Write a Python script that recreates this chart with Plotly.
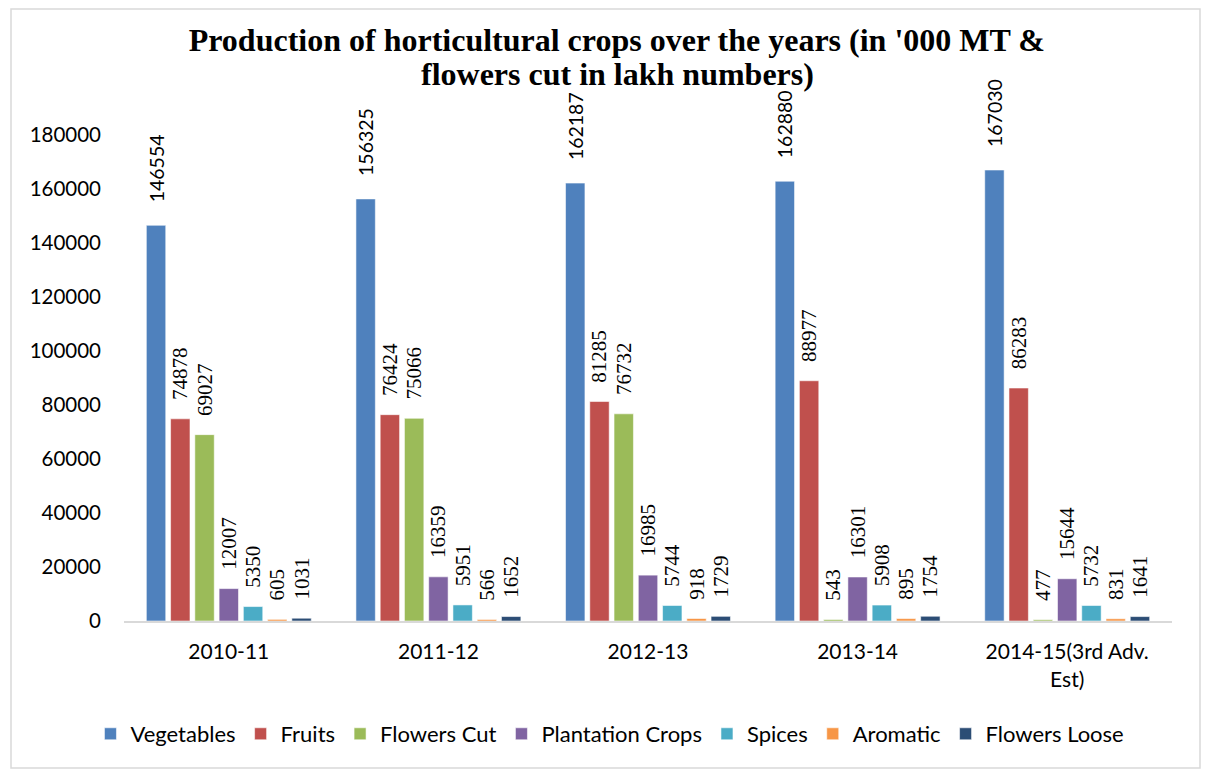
import plotly.graph_objects as go

# Years (last one is an estimate, wrapped onto two lines)
years = ["2010-11", "2011-12", "2012-13", "2013-14", "2014-15(3rd Adv.<br>Est)"]

# Production per crop group
vegetables = [146554, 156325, 162187, 162880, 167030]
fruits = [74878, 76424, 81285, 88977, 86283]
flowers_cut = [69027, 75066, 76732, 543, 477]
plantation_crops = [12007, 16359, 16985, 16301, 15644]
spices = [5350, 5951, 5744, 5908, 5732]
aromatic = [605, 566, 918, 895, 831]
flowers_loose = [1031, 1652, 1729, 1754, 1641]

series = [
    ("Vegetables", vegetables, "#4F81BD"),
    ("Fruits", fruits, "#C0504D"),
    ("Flowers Cut", flowers_cut, "#9BBB59"),
    ("Plantation Crops", plantation_crops, "#8064A2"),
    ("Spices", spices, "#4BACC6"),
    ("Aromatic", aromatic, "#F79646"),
    ("Flowers Loose", flowers_loose, "#2C4D75"),
]

title_lines = ["Production of horticultural crops over the years (in '000 MT &",
               "flowers cut in lakh numbers)"]

SANS = "Lato, Calibri, Carlito, sans-serif"
SERIF = "Liberation Serif, Times New Roman, serif"
NBSP = "\u00a0"

fig = go.Figure()
for name, vals, color in series:
    if name == "Vegetables":
        label_font = dict(family=SANS, size=19.5, color="#000000")
        pad = NBSP * 4
    else:
        label_font = dict(family=SERIF, size=21, color="#000000")
        pad = NBSP * 3
    fig.add_trace(go.Bar(
        name=name,
        x=years,
        y=vals,
        marker=dict(color=color, line=dict(color="rgba(255,255,255,0.55)", width=1)),
        # leading spaces lift the rotated label off the bar top
        text=[pad + str(v) for v in vals],
        textposition="outside",
        textangle=-90,
        textfont=label_font,
        constraintext="none",
        cliponaxis=False,
    ))

title_font = dict(family=SERIF, size=32, color="#000000", weight="bold")

fig.update_layout(
    width=1207,
    height=769,
    margin=dict(l=124, r=35, t=135, b=148),
    paper_bgcolor="white",
    plot_bgcolor="white",
    barmode="group",
    bargap=0.19,
    bargroupgap=0.2,
    title=dict(
        text=title_lines[0],
        x=0.511,
        xanchor="center",
        y=1 - 40 / 769,
        yanchor="middle",
        font=title_font,
    ),
    legend=dict(
        orientation="h",
        x=0.4637,
        xanchor="center",
        y=-0.2325,
        yanchor="middle",
        font=dict(family=SANS, size=22, color="#000000"),
        itemwidth=30,
        traceorder="normal",
    ),
    showlegend=True,
)

# Second title line, set a little closer than the default line height
fig.add_annotation(
    text=title_lines[1],
    xref="paper", yref="paper",
    x=(617 - 124) / 1048, y=(621 - 74) / 486,
    xanchor="center", yanchor="middle",
    showarrow=False,
    font=title_font,
)

fig.update_xaxes(
    type="category",
    showline=True,
    linecolor="#D9D9D9",
    linewidth=2,
    showgrid=False,
    ticks="",
    ticklabelstandoff=11,
    tickfont=dict(family=SANS, size=21, color="#000000"),
)
fig.update_yaxes(
    range=[0, 180000],
    tickvals=[0, 20000, 40000, 60000, 80000, 100000, 120000, 140000, 160000, 180000],
    ticktext=["0", "20000", "40000", "60000", "80000", "100000", "120000", "140000", "160000", "180000"],
    showline=False,
    showgrid=False,
    zeroline=False,
    ticks="",
    ticklabelstandoff=22,
    tickfont=dict(family=SANS, size=20.5, color="#000000"),
)

# Light frame around the chart area
fig.add_shape(
    type="rect",
    xref="paper", yref="paper",
    x0=(11 - 124) / 1048, x1=(1200 - 124) / 1048,
    y0=(621 - 768) / 486, y1=(621 - 9) / 486,
    line=dict(color="#D9D9D9", width=1.5),
    fillcolor="rgba(0,0,0,0)",
    layer="below",
)

fig.write_html("out.html")
